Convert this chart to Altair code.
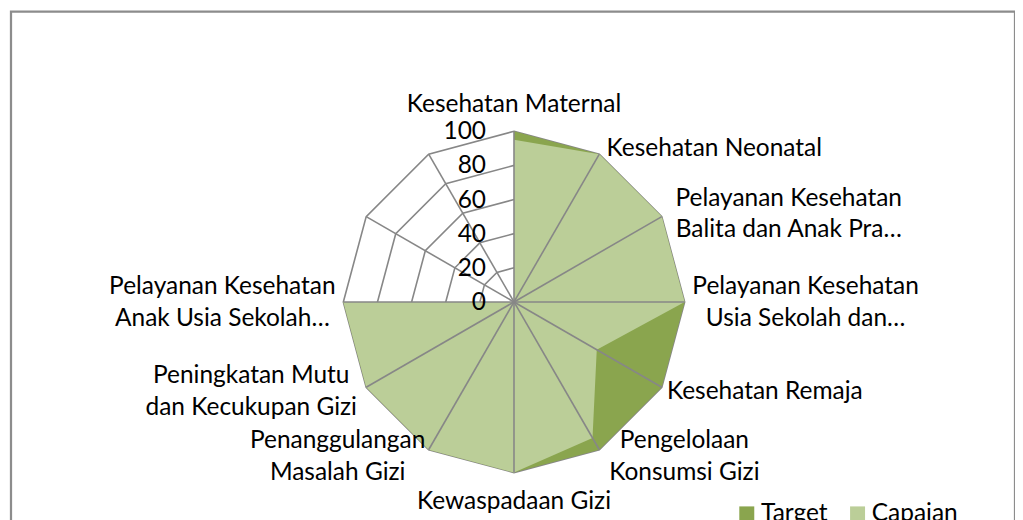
import altair as alt
import pandas as pd

# ---------------- data ----------------
categories = [
    "Kesehatan Maternal",
    "Kesehatan Neonatal",
    "Pelayanan Kesehatan\nBalita dan Anak Pra…",
    "Pelayanan Kesehatan\nUsia Sekolah dan…",
    "Kesehatan Remaja",
    "Pengelolaan\nKonsumsi Gizi",
    "Kewaspadaan Gizi",
    "Penanggulangan\nMasalah Gizi",
    "Peningkatan Mutu\ndan Kecukupan Gizi",
    "Pelayanan Kesehatan\nAnak Usia Sekolah…",
    "",
    "",
]
target = [100, 100, 100, 100, 100, 100, 100, 100, 100, 100, 0, 0]
capaian = [95, 100, 100, 100, 56, 92, 100, 100, 100, 100, 0, 0]
series_names = ["Target", "Capaian"]
ring_levels = [0, 20, 40, 60, 80, 100]
tick_labels = ["0", "20", "40", "60", "80", "100"]

# ---------------- layout / style ----------------
FONT = "Lato"
FS = 24.5
LH = 32
GRID = "#878787"
DARK = "#8AA54E"
LIGHT = "#BBCE98"
n = len(categories)
K = 1.71            # pixels per value unit
W, H = 1006, 520    # plot area
CX, CY = 504, 291   # centre inside plot area
CW = 12.0           # approx. label character width (px)
GAP_S = 7.2         # gap of side labels (px)
GAP_TB = 27.5       # gap of top / bottom labels (px)

xdom = [-CX / K, (W - CX) / K]
ydom = [-(H - CY) / K, CY / K]
vmax = ring_levels[-1]

rows = []
for s, vals in zip(series_names, [target, capaian]):
    for i, (c, v) in enumerate(zip(categories, vals)):
        rows.append({"series": s, "idx": i, "category": c, "value": v})
series_df = pd.DataFrame(rows)
grid_df = pd.DataFrame([{"level": lv, "idx": i} for lv in ring_levels for i in range(n)])
spoke_df = pd.DataFrame({"idx": list(range(n))})
cat_df = pd.DataFrame({"idx": list(range(n)), "label": categories})
tick_df = pd.DataFrame({"level": ring_levels, "text": tick_labels})

theta = f"datum.idx * 2 * PI / {n}"
xs = alt.Scale(domain=xdom, nice=False, zero=False)
ys = alt.Scale(domain=ydom, nice=False, zero=False)
color = alt.Color(
    "series:N",
    scale=alt.Scale(domain=series_names, range=[DARK, LIGHT]),
    legend=alt.Legend(
        title=None, orient="none", legendX=725, legendY=491, direction="horizontal",
        symbolType="square", symbolSize=225, symbolStrokeWidth=0,
        labelFont=FONT, labelFontSize=FS, labelColor="#000000",
        labelOffset=2, columnPadding=17, padding=0,
    ),
)

rings = alt.Chart(grid_df).transform_calculate(
    theta=theta
).transform_calculate(
    gx="datum.level * sin(datum.theta)", gy="datum.level * cos(datum.theta)"
).mark_line(interpolate="linear-closed", color=GRID, strokeWidth=1.6).encode(
    x=alt.X("gx:Q", scale=xs, axis=None),
    y=alt.Y("gy:Q", scale=ys, axis=None),
    detail="level:N",
    order="idx:Q",
)

def fill_layer(name):
    return alt.Chart(series_df).transform_filter(
        alt.datum.series == name
    ).transform_calculate(
        theta=theta
    ).transform_calculate(
        px="datum.value * sin(datum.theta)", py="datum.value * cos(datum.theta)"
    ).mark_line(interpolate="linear-closed", filled=True, fillOpacity=1, strokeWidth=0).encode(
        x=alt.X("px:Q", scale=xs, axis=None),
        y=alt.Y("py:Q", scale=ys, axis=None),
        color=color,
        order="idx:Q",
    )

spokes = alt.Chart(spoke_df).transform_calculate(
    theta=theta
).transform_calculate(
    ox="0", oy="0",
    sx=f"{vmax} * sin(datum.theta)", sy=f"{vmax} * cos(datum.theta)",
).mark_rule(color=GRID, strokeWidth=1.6).encode(
    x=alt.X("ox:Q", scale=xs, axis=None),
    y=alt.Y("oy:Q", scale=ys, axis=None),
    x2="sx:Q", y2="sy:Q",
)

ticks = alt.Chart(tick_df).transform_calculate(tx="0").mark_text(
    align="right", baseline="middle", dx=-28, dy=1, font=FONT, fontSize=FS, color="#000000"
).encode(
    x=alt.X("tx:Q", scale=xs, axis=None),
    y=alt.Y("level:Q", scale=ys, axis=None),
    text="text:N",
)

labels = alt.Chart(cat_df).transform_calculate(
    theta=theta
).transform_calculate(
    s="sin(datum.theta)", c="cos(datum.theta)",
    nch="max(length(split(datum.label, '\\n')[0]), length(peek(split(datum.label, '\\n'))))",
    nl="length(split(datum.label, '\\n'))",
).transform_calculate(
    side="abs(datum.s) > 0.01 ? (datum.s > 0 ? 1 : -1) : 0",
).transform_calculate(
    lx=f"{vmax} * datum.s + datum.side * ({GAP_S} + datum.nch * {CW} / 2) / {K}",
    ly=(f"{vmax} * datum.c + datum.c * (datum.side == 0 ? {GAP_TB} : {GAP_S}) / {K}"
        f" + (datum.nl - 1) * {LH} / 2 / {K}"),
).mark_text(
    align="center", baseline="middle", lineBreak="\n", lineHeight=LH, dy=1.5,
    font=FONT, fontSize=FS, color="#000000",
).encode(
    x=alt.X("lx:Q", scale=xs, axis=None),
    y=alt.Y("ly:Q", scale=ys, axis=None),
    text="label:N",
)

chart = alt.layer(
    rings, fill_layer("Target"), fill_layer("Capaian"), spokes, ticks, labels
).properties(
    width=W, height=H,
    padding={"left": 3, "top": 3, "right": 0, "bottom": 0},
).configure_view(
    stroke="#8C8C8C", strokeWidth=2.25
)

chart.save("out.html", embed_options={"renderer": "svg", "actions": False})
